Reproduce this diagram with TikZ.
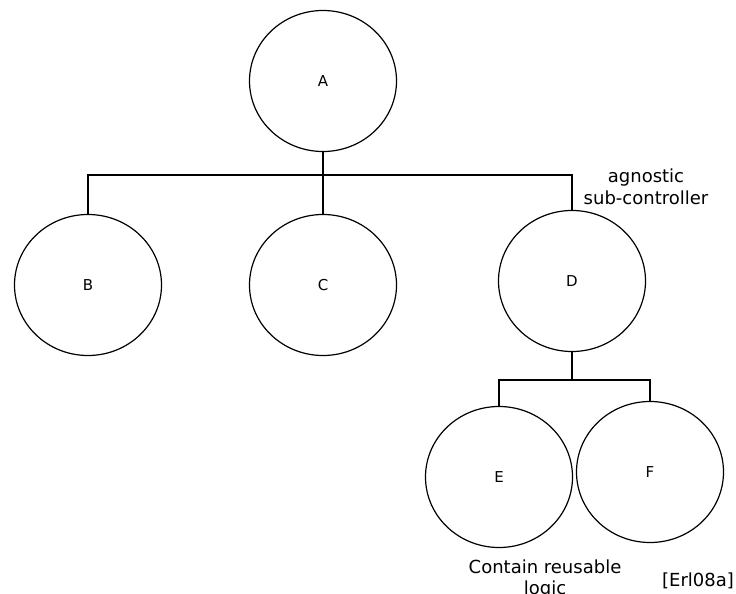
\documentclass[tikz,border=0pt]{standalone}
\usepackage{fontspec}
\setmainfont{DejaVu Sans}
\usetikzlibrary{shapes.geometric}
\begin{document}
\begin{tikzpicture}[x=1pt,y=-1pt,
  unit/.style={ellipse,draw,line width=1.2pt,inner sep=0pt,
    minimum width=147pt,minimum height=141pt,font=\fontsize{15}{17}\selectfont},
  link/.style={line width=1.2pt},
  note/.style={align=center,font=\fontsize{18}{21.5}\selectfont,inner sep=0pt}]
\useasboundingbox (0,0) rectangle (736,594);
% controller hierarchy
\node[unit] (A) at (323,81) {A};
\node[unit] (B) at (88,285) {B};
\node[unit] (C) at (323,285) {C};
\node[unit] (D) at (572,281) {D};
\node[unit] (E) at (499,477) {E};
\node[unit] (F) at (650,472) {F};
% branching connectors
\coordinate (j1) at (323,175);
\coordinate (j2) at (572,380);
\draw[link] (A.south) -- (j1);
\draw[link] (B.north) |- (j1) -| (D.north);
\draw[link] (j1) -- (C.north);
\draw[link] (D.south) -- (j2);
\draw[link] (E.north) |- (j2) -| (F.north);
% annotations
\node[note] (ag) at (646,187) {agnostic\\sub-controller};
\node[note] (re) at (545,579) {Contain reusable\\logic};
\node[note] (ref) at (698,581) {[Erl08a]};
\end{tikzpicture}
\end{document}
